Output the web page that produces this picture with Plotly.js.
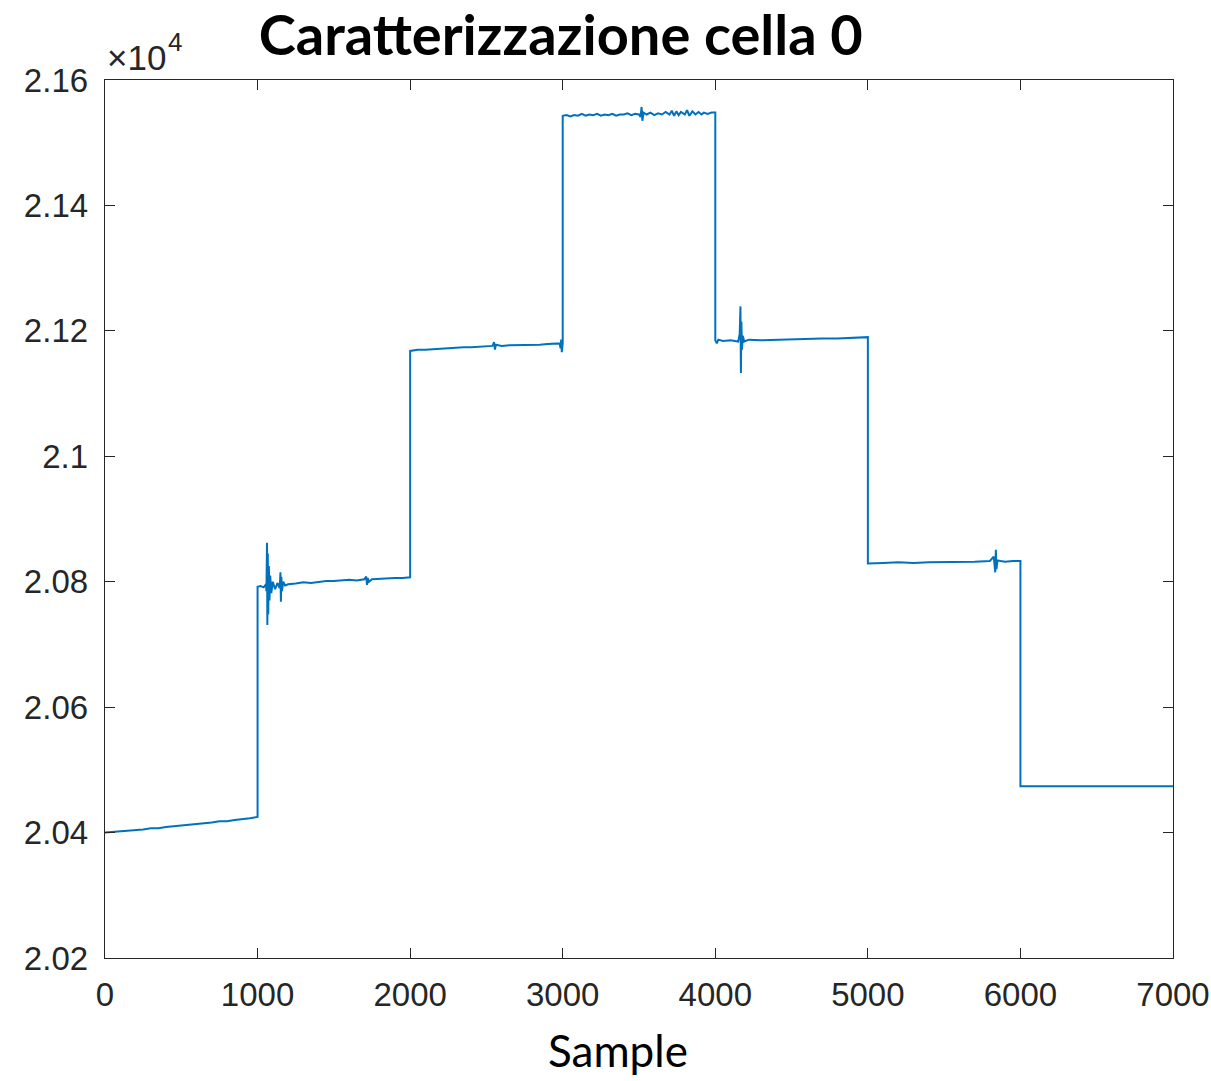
<!DOCTYPE html>
<html>
<head>
<meta charset="utf-8">
<script src="https://cdn.plot.ly/plotly-3.0.1.min.js"></script>
<style>html,body{margin:0;padding:0;background:#fff;}#chart{width:1211px;height:1081px;}</style>
</head>
<body>
<div id="chart"></div>
<script>
const sampleIdx = [
  0,50,100,150,200,250,300,350,400,450,500,550,600,650,700,750,800,850,900,950,1000,
  1000,1020,1040,1055,1058,1062,1064,1067,1070,1074,1078,1083,1090,1100,1115,1130,1145,1150,1153,1156,1160,1168,1180,1200,1250,1300,1350,1400,1450,1500,1550,1600,1650,1700,1712,1717,1722,1730,1750,1800,1850,1900,1950,2000,
  2000,2050,2100,2150,2200,2250,2300,2350,2400,2450,2500,2540,2550,2556,2562,2600,2650,2700,2750,2800,2850,2900,2950,2980,2986,2990,2994,3000,
  3000,3025,3050,3075,3100,3125,3150,3175,3200,3225,3250,3275,3300,3325,3350,3375,3400,3425,3450,3475,3500,3510,3517,3522,3530,3550,3575,3600,3625,3650,3675,3700,3715,3730,3745,3760,3775,3800,3815,3830,3850,3870,3890,3910,3925,3950,3975,4000,
  4000,4010,4020,4050,4100,4150,4160,4165,4168,4171,4175,4180,4190,4220,4300,4400,4500,4600,4700,4800,4900,5000,
  5000,5050,5100,5200,5300,5400,5500,5600,5700,5800,5825,5835,5839,5843,5850,5870,5900,5950,6000,
  6000,6100,6200,6300,6400,6500,6600,6700,6800,6900,7000
];
const cellValue = [
  20400,20401,20401,20403,20404,20405,20407,20407,20409,20410,20412,20413,20413,20415,20416,20418,20418,20420,20421,20423,20425,
  20792,20793,20791,20796,20785,20862,20731,20845,20748,20825,20770,20810,20782,20800,20788,20798,20790,20815,20768,20808,20785,20800,20794,20796,20797,20799,20798,20800,20801,20801,20802,20803,20802,20804,20808,20795,20806,20800,20804,20805,20805,20806,20806,20807,
  21168,21170,21170,21171,21172,21172,21173,21174,21174,21175,21175,21176,21182,21170,21178,21176,21177,21177,21178,21178,21178,21179,21179,21180,21172,21186,21166,21180,
  21543,21544,21542,21544,21543,21546,21543,21545,21544,21546,21543,21545,21544,21546,21543,21545,21545,21547,21544,21546,21545,21541,21557,21535,21548,21545,21548,21544,21547,21545,21549,21545,21551,21543,21550,21544,21549,21545,21552,21543,21550,21545,21549,21545,21548,21546,21548,21548,
  21185,21180,21186,21184,21185,21183,21195,21239,21133,21215,21170,21192,21183,21186,21185,21186,21186,21187,21188,21188,21189,21190,
  20829,20830,20830,20831,20830,20831,20831,20832,20832,20833,20840,20815,20851,20820,20834,20833,20832,20833,20833,
  20474,20474,20475,20474,20475,20474,20474,20475,20474,20475,20474
];
const xTickVals = [0,1000,2000,3000,4000,5000,6000,7000];
const xTickText = ["0","1000","2000","3000","4000","5000","6000","7000"];
const yTickVals = [20200,20400,20600,20800,21000,21200,21400,21600];
const yTickText = ["2.02","2.04","2.06","2.08","2.1","2.12","2.14","2.16"];

const axisCommon = {
  showgrid:false, zeroline:false, showline:true, mirror:'ticks',
  linecolor:'#262626', linewidth:1.3, ticks:'inside', ticklen:10, tickwidth:1,
  tickcolor:'#262626', tickfont:{family:'Liberation Sans, Arial, sans-serif', size:33, color:'#262626'}
};

const trace = {
  x: sampleIdx, y: cellValue, type:'scatter', mode:'lines',
  line:{color:'#0072BD', width:2}, hoverinfo:'skip'
};

const layout = {
  width:1211, height:1081,
  margin:{l:105, r:38, t:80, b:123},
  paper_bgcolor:'#ffffff', plot_bgcolor:'#ffffff',
  showlegend:false,
  title:{text:'<b>Caratterizzazione cella 0</b>', x:0.463, xanchor:'center', y:0.9676, yanchor:'middle',
    font:{family:'Lato, Calibri, sans-serif', size:56, color:'#000000'}},
  xaxis: Object.assign({}, axisCommon, {range:[0,7000], tickvals:xTickVals, ticktext:xTickText, ticklabelstandoff:7}),
  yaxis: Object.assign({}, axisCommon, {range:[20200,21600], tickvals:yTickVals, ticktext:yTickText, ticklabelstandoff:9}),
  annotations:[
    {text:'Sample', xref:'paper', yref:'paper', x:0.480, y:-0.105, xanchor:'center', yanchor:'middle',
      showarrow:false, font:{family:'Lato, Calibri, sans-serif', size:44, color:'#000000'}},
    {text:'×10', xref:'paper', yref:'paper', x:0, y:1, xanchor:'left', yanchor:'bottom',
      xshift:0, yshift:1, showarrow:false,
      font:{family:'Liberation Sans, Arial, sans-serif', size:35, color:'#262626'}},
    {text:'4', xref:'paper', yref:'paper', x:0, y:1, xanchor:'left', yanchor:'bottom',
      xshift:61, yshift:21, showarrow:false,
      font:{family:'Liberation Sans, Arial, sans-serif', size:26, color:'#262626'}}
  ]
};

Plotly.newPlot('chart', [trace], layout, {staticPlot:true, displayModeBar:false});
</script>
</body>
</html>
